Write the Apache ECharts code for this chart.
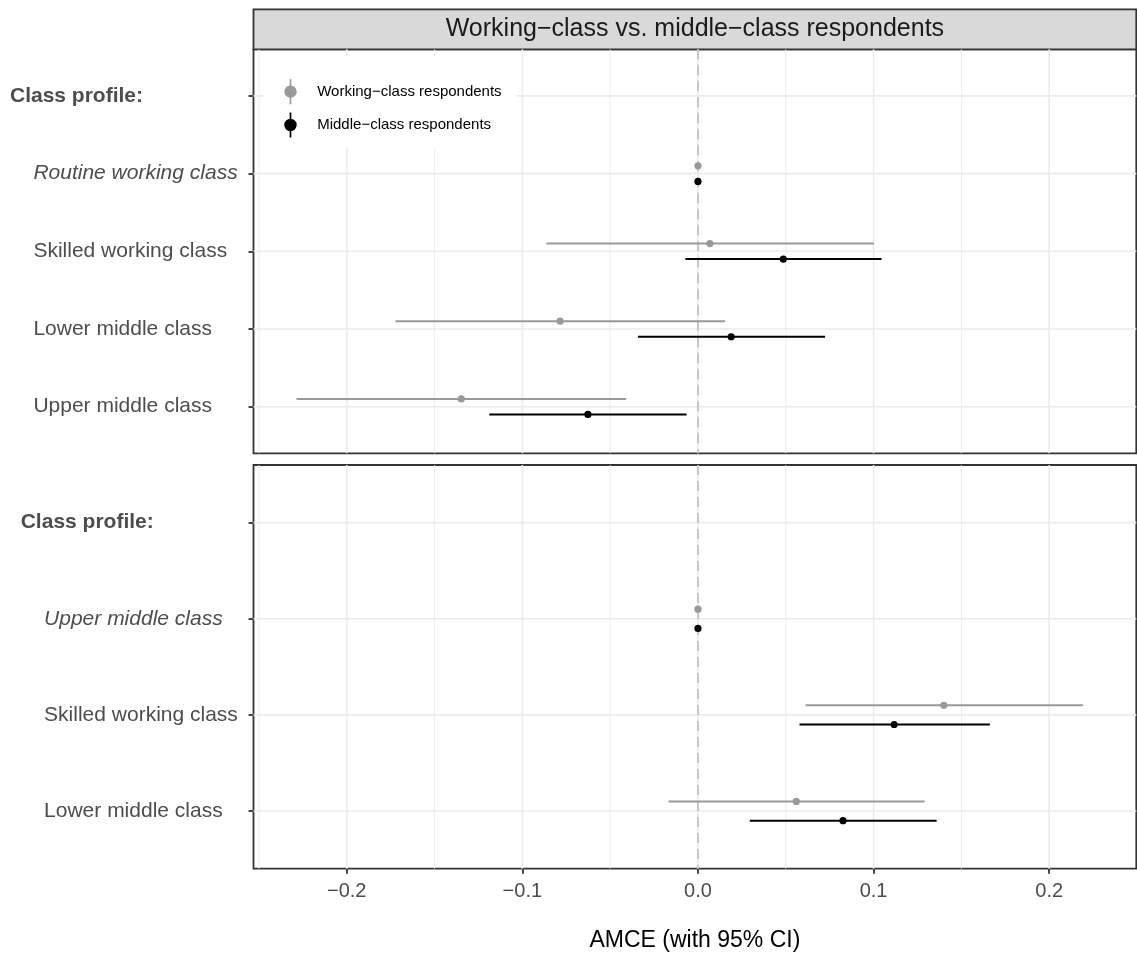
<!DOCTYPE html>
<html><head><meta charset="utf-8">
<script src="https://cdn.jsdelivr.net/npm/echarts@6/dist/echarts.min.js"></script>
<style>html,body{margin:0;padding:0;background:#fff}#c{width:1137px;height:953px}</style>
</head><body><div id="c"></div>
<script>
// ---------------- data ----------------
const stripTitle = 'Working−class vs. middle−class respondents';
const xTitle = 'AMCE (with 95% CI)';
const seriesNames = ['Working−class respondents', 'Middle−class respondents'];
const headerLabel = 'Class profile:';

const xMin = -0.2531, xMax = 0.2496;
const majorTicks = [-0.2, -0.1, 0, 0.1, 0.2];
const minorTicks = [-0.25, -0.15, -0.05, 0.05, 0.15, 0.25];
const referenceValue = [0];

// top panel (categories listed top to bottom)
const topCategories = ['Class profile:', 'Routine working class', 'Skilled working class', 'Lower middle class', 'Upper middle class'];
const topReference = 'Routine working class';
const topRows = ['Routine working class', 'Skilled working class', 'Lower middle class', 'Upper middle class'];
const topWorkingEst = [0, 0.0068, -0.0785, -0.1348];
const topWorkingLo  = [0, -0.0863, -0.1723, -0.2286];
const topWorkingHi  = [0, 0.1002, 0.0154, -0.0409];
const topMiddleEst  = [0, 0.0486, 0.0189, -0.0627];
const topMiddleLo   = [0, -0.0072, -0.0342, -0.1188];
const topMiddleHi   = [0, 0.1045, 0.0724, -0.0065];

// bottom panel (categories listed top to bottom)
const bottomCategories = ['Class profile:', 'Upper middle class', 'Skilled working class', 'Lower middle class'];
const bottomReference = 'Upper middle class';
const bottomRows = ['Upper middle class', 'Skilled working class', 'Lower middle class'];
const bottomWorkingEst = [0, 0.1400, 0.0560];
const bottomWorkingLo  = [0, 0.0613, -0.0167];
const bottomWorkingHi  = [0, 0.2192, 0.1291];
const bottomMiddleEst  = [0, 0.1117, 0.0826];
const bottomMiddleLo   = [0, 0.0578, 0.0295];
const bottomMiddleHi   = [0, 0.1662, 0.1359];

// ---------------- helpers ----------------
const FONT = '"Liberation Sans", Arial, Helvetica, sans-serif';
const GREY = '#999999', BLACK = '#000000';
const DODGE = 0.1;

function yOf(cats, c) { return cats.length - cats.indexOf(c); }
function rows(cats, names, est, lo, hi) {
  return names.map((c, i) => [est[i], yOf(cats, c), lo[i], hi[i]]);
}
function errorBar(color, dodge) {
  return function (params, api) {
    const y = api.value(1) + dodge;
    const a = api.coord([api.value(2), y]);
    const b = api.coord([api.value(3), y]);
    const p = api.coord([api.value(0), y]);
    return { type: 'group', children: [
      { type: 'line', shape: { x1: a[0], y1: a[1], x2: b[0], y2: b[1] }, style: { stroke: color, lineWidth: 2 } },
      { type: 'circle', shape: { cx: p[0], cy: p[1], r: 3.6 }, style: { fill: color } }
    ]};
  };
}
function vGrid(params, api) {
  const v = api.value(0);
  if (v < xMin || v > xMax) return null;
  const cs = params.coordSys;
  const x = api.coord([v, 1])[0];
  return { type: 'line', shape: { x1: x, y1: cs.y, x2: x, y2: cs.y + cs.height },
    style: { stroke: '#EBEBEB', lineWidth: api.value(1) === 1 ? 1.6 : 0.9 } };
}
function hGrid(params, api) {
  const cs = params.coordSys;
  const y = api.coord([0, api.value(1)])[1];
  return { type: 'line', shape: { x1: cs.x, y1: y, x2: cs.x + cs.width, y2: y },
    style: { stroke: '#EBEBEB', lineWidth: 1.6 } };
}
function refLine(params, api) {
  const cs = params.coordSys;
  const x = api.coord([api.value(0), 1])[0];
  return { type: 'line', shape: { x1: x, y1: cs.y, x2: x, y2: cs.y + cs.height },
    style: { stroke: '#BEBEBE', lineWidth: 1.6, lineDash: [10, 6] } };
}
function yAxisFor(idx, cats, ref, margin) {
  const vals = cats.map(c => yOf(cats, c));
  return {
    type: 'value', gridIndex: idx, min: 0.4, max: cats.length + 0.6, position: 'left',
    axisLine: { show: false, onZero: false }, splitLine: { show: false },
    axisTick: { show: true, customValues: vals, length: 5, lineStyle: { color: '#333333', width: 1.8 } },
    axisLabel: {
      customValues: vals, align: 'left', margin: margin,
      formatter: v => {
        const c = cats[cats.length - Math.round(v)];
        if (c === headerLabel) return '{b|' + c + '}';
        if (c === ref) return '{i|' + c + '}';
        return '{n|' + c + '}';
      },
      rich: {
        b: { fontSize: 21, fontWeight: 'bold', color: '#4D4D4D', fontFamily: FONT },
        i: { fontSize: 21, fontStyle: 'italic', color: '#4D4D4D', fontFamily: FONT, padding: [0, 0, 0, 23.4] },
        n: { fontSize: 21, color: '#4D4D4D', fontFamily: FONT, padding: [0, 0, 0, 23.4] }
      }
    }
  };
}
function panelSeries(idx, cats, names, wE, wL, wH, mE, mL, mH) {
  const vData = majorTicks.map(v => [v, 1]).concat(minorTicks.map(v => [v, 0]));
  const hData = cats.map(c => [0, yOf(cats, c)]);
  return [
    { type: 'custom', name: '_v' + idx, xAxisIndex: idx, yAxisIndex: idx, silent: true, z: 1,
      renderItem: vGrid, data: vData },
    { type: 'custom', name: '_h' + idx, xAxisIndex: idx, yAxisIndex: idx, silent: true, z: 1,
      renderItem: hGrid, data: hData },
    { type: 'custom', name: '_r' + idx, xAxisIndex: idx, yAxisIndex: idx, silent: true, z: 2,
      renderItem: refLine, data: referenceValue.map(v => [v, 1]) },
    { type: 'custom', name: seriesNames[0], xAxisIndex: idx, yAxisIndex: idx, z: 3,
      itemStyle: { color: GREY }, encode: { x: [0, 2, 3], y: 1 },
      renderItem: errorBar(GREY, DODGE), data: rows(cats, names, wE, wL, wH) },
    { type: 'custom', name: seriesNames[1], xAxisIndex: idx, yAxisIndex: idx, z: 3,
      itemStyle: { color: BLACK }, encode: { x: [0, 2, 3], y: 1 },
      renderItem: errorBar(BLACK, -DODGE), data: rows(cats, names, mE, mL, mH) }
  ];
}

const ICON = 'path://M6.15,0 L7.85,0 L7.85,25 L6.15,25 Z M0.8,12.5 A6.2,6.2 0 1,1 13.2,12.5 A6.2,6.2 0 1,1 0.8,12.5 Z';
const GL = 253.5, GW = 882.8;

const chart = echarts.init(document.getElementById('c'), null, { renderer: 'canvas' });
chart.setOption({
  animation: false,
  backgroundColor: '#ffffff',
  grid: [
    { left: GL, top: 49.3, width: GW, height: 404, show: true, borderColor: '#333333', borderWidth: 1.8, backgroundColor: 'transparent', containLabel: false, outerBoundsMode: 'none' },
    { left: GL, top: 465, width: GW, height: 403.7, show: true, borderColor: '#333333', borderWidth: 1.8, backgroundColor: 'transparent', containLabel: false, outerBoundsMode: 'none' }
  ],
  xAxis: [
    { type: 'value', gridIndex: 0, min: xMin, max: xMax, position: 'bottom',
      axisLine: { show: false, onZero: false }, axisTick: { show: false }, axisLabel: { show: false }, splitLine: { show: false } },
    { type: 'value', gridIndex: 1, min: xMin, max: xMax, position: 'bottom',
      axisLine: { show: false, onZero: false }, splitLine: { show: false },
      axisTick: { show: true, customValues: majorTicks, length: 5, lineStyle: { color: '#333333', width: 1.8 } },
      axisLabel: { customValues: majorTicks, margin: 13, fontSize: 20, color: '#4D4D4D', fontFamily: FONT,
        formatter: v => (v < -1e-9 ? '−' : '') + Math.abs(v).toFixed(1) },
      name: xTitle, nameLocation: 'middle', nameGap: 60,
      nameTextStyle: { fontSize: 23, color: '#000000', fontFamily: FONT } }
  ],
  yAxis: [
    yAxisFor(0, topCategories, topReference, GL - 10),
    yAxisFor(1, bottomCategories, bottomReference, GL - 20.7)
  ],
  legend: {
    data: seriesNames.map(n => ({ name: n, icon: ICON })),
    orient: 'vertical', left: 263, top: 56,
    padding: [23.2, 15, 10.5, 21.3],
    backgroundColor: '#ffffff',
    itemWidth: 43.4, itemHeight: 25, itemGap: 8.3,
    selectedMode: false, z: 4,
    textStyle: { fontSize: 15, color: '#000000', fontFamily: FONT }
  },
  graphic: [
    { type: 'rect', shape: { x: GL, y: 9.3, width: GW, height: 40 },
      style: { fill: '#D9D9D9', stroke: '#333333', lineWidth: 1.8 }, z: 0 },
    { type: 'text', x: GL + GW / 2, y: 29.5,
      style: { text: stripTitle, fill: '#1A1A1A', fontSize: 25, fontFamily: FONT, align: 'center', verticalAlign: 'middle' }, z: 1 }
  ],
  series: [].concat(
    panelSeries(0, topCategories, topRows, topWorkingEst, topWorkingLo, topWorkingHi, topMiddleEst, topMiddleLo, topMiddleHi),
    panelSeries(1, bottomCategories, bottomRows, bottomWorkingEst, bottomWorkingLo, bottomWorkingHi, bottomMiddleEst, bottomMiddleLo, bottomMiddleHi)
  )
});
</script>
</body></html>
